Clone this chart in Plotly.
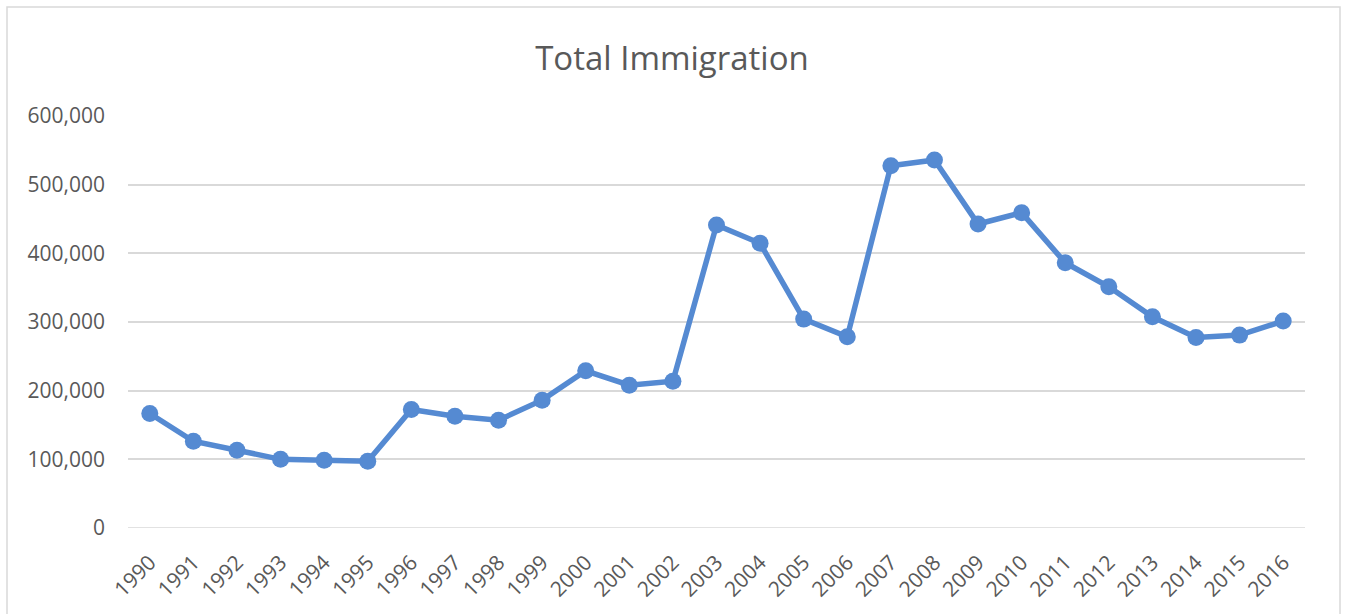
import plotly.graph_objects as go

# Annual immigration totals
years = [str(y) for y in range(1990, 2017)]
immigration = [
    166800, 126400, 113300, 100000, 98700, 97200, 172600, 162800, 157000,
    186200, 228900, 208000, 213800, 441200, 414600, 304200, 278400, 527700,
    536000, 442700, 459200, 386300, 351300, 307600, 277500, 280900, 301300,
]
y_ticks = [0, 100000, 200000, 300000, 400000, 500000, 600000]
y_tick_text = ["0", "100,000", "200,000", "300,000", "400,000", "500,000", "600,000"]

W, H = 1346, 614
L, R, T, B = 128, 41, 116, 86
pw, ph = W - L - R, H - T - B

def px_x(p):
    return (p - L) / pw

def px_y(p):
    return (H - B - p) / ph

line_color = "#558ad2"
grid_color = "#d9d9d9"
text_color = "#595959"
font_family = "Open Sans, DejaVu Sans, sans-serif"

fig = go.Figure()
fig.add_trace(go.Scatter(
    x=years,
    y=immigration,
    mode="lines+markers",
    line=dict(color=line_color, width=5.5),
    marker=dict(color=line_color, size=17),
    showlegend=False,
    hoverinfo="x+y",
))

fig.update_layout(
    width=W,
    height=H,
    margin=dict(l=L, r=R, t=T, b=B),
    paper_bgcolor="white",
    plot_bgcolor="white",
    title=dict(
        text="Total Immigration",
        font=dict(family=font_family, size=33, color=text_color),
        x=px_x(672), xref="paper", xanchor="center",
        y=1 - 58 / H, yref="container", yanchor="middle",
    ),
    xaxis=dict(
        type="category",
        range=[-0.5, len(years) - 0.5],
        tickangle=-45,
        showgrid=False,
        showline=False,
        zeroline=False,
        ticks="",
        ticklabelstandoff=17,
        tickfont=dict(family=font_family, size=21, color=text_color),
    ),
    yaxis=dict(
        range=[0, 600000],
        tickvals=y_ticks,
        ticktext=y_tick_text,
        showgrid=True,
        gridcolor=grid_color,
        gridwidth=1.5,
        zeroline=False,
        showline=False,
        ticks="",
        ticklabelstandoff=22,
        tickfont=dict(family=font_family, size=21, color=text_color),
    ),
    shapes=[
        dict(
            type="rect", xref="paper", yref="paper",
            x0=px_x(7), x1=px_x(1340), y0=px_y(620), y1=px_y(7),
            line=dict(color=grid_color, width=1.5),
            fillcolor="rgba(0,0,0,0)",
            layer="below",
        ),
        dict(
            type="line", xref="paper", yref="y",
            x0=0, x1=1, y0=0, y1=0,
            line=dict(color=grid_color, width=1.5),
            layer="below",
        ),
    ],
)

fig.write_html("out.html")
